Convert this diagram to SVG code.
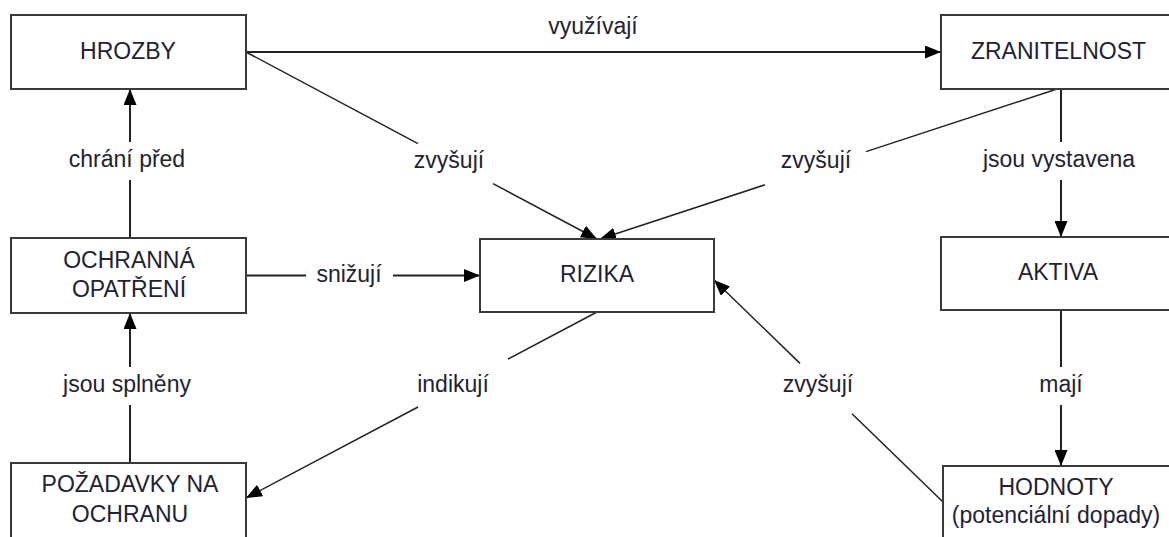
<svg xmlns="http://www.w3.org/2000/svg" width="1169" height="537" viewBox="0 0 1169 537">
  <style>
    .box { fill: #ffffff; stroke: #3a3a3a; stroke-width: 2; }
    .t { font-family: "Liberation Sans", Arial, sans-serif; font-size: 23px; fill: #222233; text-anchor: middle; }
    .c { fill: none; stroke: #222222; stroke-width: 2; }
    .d { fill: none; stroke: #222222; stroke-width: 1.5; }
  </style>
  <defs>
    <marker id="arrow" markerUnits="userSpaceOnUse" markerWidth="16" markerHeight="13" refX="16" refY="6.5" orient="auto">
      <path d="M0,0 L16,6.5 L0,13 z" fill="#000000"/>
    </marker>
  </defs>
  <rect width="1169" height="537" fill="#ffffff"/>

  <!-- connectors -->
  <g id="connectors">
    <!-- HROZBY -> ZRANITELNOST -->
    <line class="c" x1="246" y1="52" x2="941" y2="52" marker-end="url(#arrow)"/>
    <text class="t" x="593" y="34">využívají</text>

    <!-- HROZBY -> RIZIKA -->
    <line class="d" x1="246" y1="52" x2="418" y2="143.7"/>
    <line class="d" x1="493" y1="183.6" x2="597" y2="239" marker-end="url(#arrow)"/>
    <text class="t" x="449" y="168">zvyšují</text>

    <!-- ZRANITELNOST -> RIZIKA -->
    <line class="d" x1="1057" y1="89" x2="866" y2="151.6"/>
    <line class="d" x1="765" y1="184.8" x2="600" y2="239" marker-end="url(#arrow)"/>
    <text class="t" x="816" y="168">zvyšují</text>

    <!-- ZRANITELNOST -> AKTIVA -->
    <line class="c" x1="1061" y1="89" x2="1061" y2="142"/>
    <line class="c" x1="1061" y1="180" x2="1061" y2="237" marker-end="url(#arrow)"/>
    <text class="t" x="1059" y="166.7">jsou vystavena</text>

    <!-- OCHRANNÁ OPATŘENÍ -> HROZBY -->
    <line class="c" x1="130" y1="238" x2="130" y2="180"/>
    <line class="c" x1="130" y1="142" x2="130" y2="89" marker-end="url(#arrow)"/>
    <text class="t" x="127" y="166.7">chrání před</text>

    <!-- OCHRANNÁ OPATŘENÍ -> RIZIKA -->
    <line class="c" x1="246" y1="275.5" x2="306" y2="275.5"/>
    <line class="c" x1="393" y1="275.5" x2="480" y2="275.5" marker-end="url(#arrow)"/>
    <text class="t" x="349" y="281.7">snižují</text>

    <!-- POŽADAVKY NA OCHRANU -> OCHRANNÁ OPATŘENÍ -->
    <line class="c" x1="130" y1="463" x2="130" y2="405"/>
    <line class="c" x1="130" y1="367" x2="130" y2="313" marker-end="url(#arrow)"/>
    <text class="t" x="127" y="391.5">jsou splněny</text>

    <!-- RIZIKA -> POŽADAVKY NA OCHRANU -->
    <line class="d" x1="597" y1="312" x2="508" y2="359"/>
    <line class="d" x1="418" y1="407" x2="246" y2="498" marker-end="url(#arrow)"/>
    <text class="t" x="453" y="391.5">indikují</text>

    <!-- HODNOTY -> RIZIKA -->
    <line class="d" x1="943" y1="502" x2="852" y2="413.8"/>
    <line class="d" x1="800" y1="363.4" x2="714" y2="280" marker-end="url(#arrow)"/>
    <text class="t" x="818" y="391.5">zvyšují</text>

    <!-- AKTIVA -> HODNOTY -->
    <line class="c" x1="1061" y1="310" x2="1061" y2="367"/>
    <line class="c" x1="1061" y1="405" x2="1061" y2="466" marker-end="url(#arrow)"/>
    <text class="t" x="1061" y="391.5">mají</text>
  </g>

  <!-- nodes -->
  <g id="hrozby">
    <rect class="box" x="11" y="15" width="235" height="74"/>
    <text class="t" x="128" y="58.5">HROZBY</text>
  </g>
  <g id="zranitelnost">
    <rect class="box" x="941" y="15" width="236" height="74"/>
    <text class="t" x="1058.5" y="58.5">ZRANITELNOST</text>
  </g>
  <g id="ochranna-opatreni">
    <rect class="box" x="11" y="238" width="235" height="75"/>
    <text class="t" x="129" y="267.7">OCHRANNÁ</text>
    <text class="t" x="129" y="296.7">OPATŘENÍ</text>
  </g>
  <g id="rizika">
    <rect class="box" x="480" y="239" width="234" height="73"/>
    <text class="t" x="597" y="281.7">RIZIKA</text>
  </g>
  <g id="aktiva">
    <rect class="box" x="941" y="237" width="236" height="73"/>
    <text class="t" x="1058" y="280">AKTIVA</text>
  </g>
  <g id="pozadavky-na-ochranu">
    <rect class="box" x="11" y="463" width="235" height="90"/>
    <text class="t" x="130" y="491.7">POŽADAVKY NA</text>
    <text class="t" x="130" y="521.7">OCHRANU</text>
  </g>
  <g id="hodnoty">
    <rect class="box" x="943" y="466" width="236" height="90"/>
    <text class="t" x="1056" y="495">HODNOTY</text>
    <text class="t" x="1056" y="523">(potenciální dopady)</text>
  </g>
</svg>
